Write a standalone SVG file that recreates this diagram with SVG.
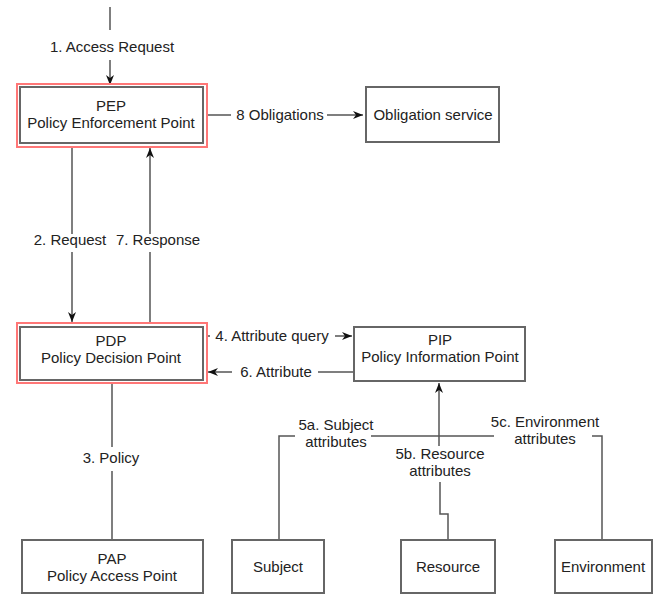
<svg xmlns="http://www.w3.org/2000/svg" width="666" height="597" viewBox="0 0 666 597">
<defs>
<marker id="ah" viewBox="0 0 10 8" refX="10" refY="4" markerWidth="10" markerHeight="8" markerUnits="userSpaceOnUse" orient="auto">
<path d="M0,0 L10,4 L0,8 L3,4 Z" fill="#111"/>
</marker>
<style>
text{font-family:"Liberation Sans",Arial,sans-serif;font-size:15px;fill:#222;text-anchor:middle}
.box{fill:#fff;stroke:#666;stroke-width:2}
.hl{fill:none;stroke:#f77;stroke-width:2}
.ln{fill:none;stroke:#555;stroke-width:1.5}
.ar{fill:none;stroke:#555;stroke-width:1.5;marker-end:url(#ah)}
</style>
</defs>
<rect width="666" height="597" fill="#fff"/>
<g id="connectors">
<line class="ln" x1="110" y1="7" x2="110" y2="30"/>
<line class="ar" x1="110" y1="60" x2="110" y2="85"/>
<line class="ln" x1="206" y1="115" x2="231" y2="115"/>
<line class="ar" x1="327" y1="115" x2="363" y2="115"/>
<line class="ln" x1="72" y1="147" x2="72" y2="234"/>
<line class="ar" x1="72" y1="252" x2="72" y2="322"/>
<line class="ln" x1="150" y1="323" x2="150" y2="252"/>
<line class="ar" x1="150" y1="234" x2="150" y2="148"/>
<line class="ln" x1="206" y1="336" x2="210" y2="336"/>
<line class="ar" x1="335" y1="336" x2="352" y2="336"/>
<line class="ln" x1="353" y1="372" x2="318" y2="372"/>
<line class="ar" x1="232" y1="372" x2="208" y2="372"/>
<line class="ln" x1="112" y1="382" x2="112" y2="447"/>
<line class="ln" x1="112" y1="471" x2="112" y2="540"/>
<line class="ar" x1="439" y1="446" x2="439" y2="383"/>
<polyline class="ln" points="440,482 440,514 448,514 448,540"/>
<polyline class="ln" points="279,540 279,436 295,436"/>
<line class="ln" x1="371" y1="436" x2="494" y2="436"/>
<polyline class="ln" points="592,436 602,436 602,540"/>
</g>
<g id="labels">
<text x="112" y="52">1.  Access Request</text>
<text x="280" y="120">8 Obligations</text>
<text x="70" y="245">2. Request</text>
<text x="158" y="245">7. Response</text>
<text x="272" y="341">4. Attribute query</text>
<text x="276" y="377">6. Attribute</text>
<text x="111" y="463">3. Policy</text>
<text x="336" y="430">5a. Subject</text>
<text x="336" y="447">attributes</text>
<text x="440" y="459">5b. Resource</text>
<text x="440" y="476">attributes</text>
<text x="545" y="427">5c. Environment</text>
<text x="545" y="444">attributes</text>
</g>
<g id="pep">
<rect class="hl" x="17" y="84" width="190" height="63"/>
<rect class="box" x="20" y="87" width="183" height="56"/>
<text x="111" y="111">PEP</text>
<text x="111" y="128">Policy Enforcement Point</text>
</g>
<g id="obligation">
<rect class="box" x="366" y="87" width="133" height="55"/>
<text x="433" y="120">Obligation service</text>
</g>
<g id="pdp">
<rect class="hl" x="17" y="323" width="190" height="60"/>
<rect class="box" x="20" y="327" width="183" height="53"/>
<text x="111" y="346">PDP</text>
<text x="111" y="363">Policy Decision Point</text>
</g>
<g id="pip">
<rect class="box" x="354" y="327" width="171" height="54"/>
<text x="440" y="345">PIP</text>
<text x="440" y="362">Policy Information Point</text>
</g>
<g id="pap">
<rect class="box" x="22" y="540" width="181" height="53"/>
<text x="112" y="564">PAP</text>
<text x="112" y="581">Policy Access Point</text>
</g>
<g id="subject">
<rect class="box" x="232" y="540" width="92" height="53"/>
<text x="278" y="572">Subject</text>
</g>
<g id="resource">
<rect class="box" x="401" y="540" width="94" height="53"/>
<text x="448" y="572">Resource</text>
</g>
<g id="environment">
<rect class="box" x="555" y="540" width="97" height="53"/>
<text x="603" y="572">Environment</text>
</g>
</svg>
